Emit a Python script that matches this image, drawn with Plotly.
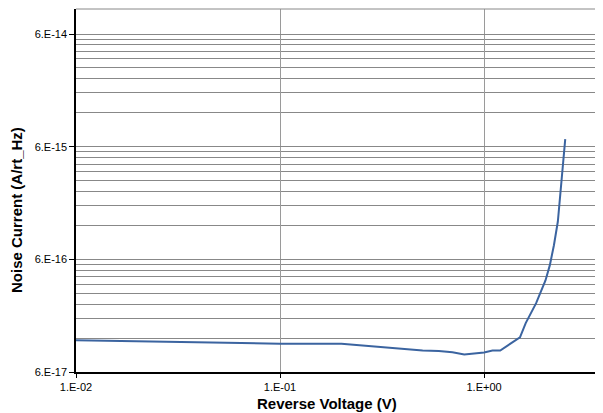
import plotly.graph_objects as go

voltage = [0.01, 0.1, 0.2, 0.3, 0.4, 0.5, 0.6, 0.7, 0.8, 0.9, 1.0, 1.1, 1.2,
           1.5, 1.6, 1.8, 2.0, 2.1, 2.2, 2.3, 2.35, 2.4, 2.45, 2.5]
noise = [1.15e-16, 1.07e-16, 1.07e-16, 1.01e-16, 9.7e-17, 9.3e-17, 9.2e-17, 9.0e-17,
         8.6e-17, 8.75e-17, 8.95e-17, 9.3e-17, 9.3e-17,
         1.22e-16, 1.63e-16, 2.45e-16, 3.9e-16, 5.3e-16, 8.0e-16, 1.3e-15, 2.0e-15,
         3.2e-15, 4.8e-15, 7.0e-15]

y_major = [6e-17, 6e-16, 6e-15, 6e-14]
y_major_text = ["6.E-17", "6.E-16", "6.E-15", "6.E-14"]
y_minor = [m * k for m in y_major for k in range(2, 10)]
x_major = [0.01, 0.1, 1.0]
x_major_text = ["1.E-02", "1.E-01", "1.E+00"]

font = "Liberation Sans, Arial, sans-serif"

fig = go.Figure()
fig.add_trace(go.Scatter(x=voltage, y=noise, mode="lines",
                         line=dict(color="#3B64A0", width=2), showlegend=False))

# page body has an 8px margin, so the figure is sized/offset to compensate
fig.update_layout(
    width=595, height=405,
    margin=dict(l=68, r=0, t=1, b=41),
    paper_bgcolor="white", plot_bgcolor="white",
    font=dict(family=font, size=11, color="black"),
    xaxis=dict(type="log", range=[-2, 0.583],
               tickvals=x_major, ticktext=x_major_text,
               showgrid=True, gridcolor="#9a9a9a", gridwidth=1,
               showline=True, linecolor="black", linewidth=1.5,
               ticks="outside", ticklen=4, tickcolor="black",
               zeroline=False),
    yaxis=dict(type="log", range=[-16.2218487, -13],
               tickvals=y_major, ticktext=y_major_text,
               showgrid=True, gridcolor="#888888", gridwidth=1,
               showline=True, linecolor="black", linewidth=1.5,
               ticks="outside", ticklen=5, tickcolor="black",
               minor=dict(tickvals=y_minor, showgrid=True, gridcolor="#888888",
                          gridwidth=1, ticks=""),
               zeroline=False),
    shapes=[dict(type="line", xref="paper", yref="paper", x0=0, x1=1, y0=1, y1=1,
                 line=dict(color="#888888", width=1))],
    annotations=[
        dict(text="<b>Reverse Voltage (V)</b>", xref="paper", yref="paper",
             x=(327 - 76) / 527, y=0, yshift=-31, showarrow=False, borderpad=0,
             font=dict(family=font, size=15, color="black"), xanchor="center", yanchor="middle"),
        dict(text="<b>Noise Current (A/rt_Hz)</b>", xref="paper", yref="paper",
             x=0, xshift=-59, y=(372 - 210) / 363, showarrow=False, textangle=-90, borderpad=0,
             font=dict(family=font, size=15, color="black"), xanchor="center", yanchor="middle"),
    ],
)

fig.write_html("out.html")
